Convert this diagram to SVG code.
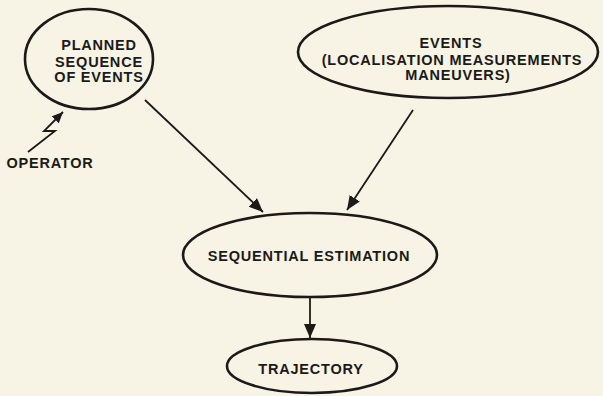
<svg xmlns="http://www.w3.org/2000/svg" width="603" height="396" viewBox="0 0 603 396">
<defs>
<style>
.n{fill:none;stroke:#1c1a18;stroke-width:2.6}
.t{font-family:"Liberation Sans",Arial,sans-serif;font-weight:bold;font-size:14.5px;letter-spacing:0.8px;fill:#1c1a18;text-anchor:middle}
.c{fill:none;stroke:#1c1a18;stroke-width:1.8}
</style>
<marker id="ah" markerUnits="userSpaceOnUse" markerWidth="16" markerHeight="14" refX="14" refY="6" orient="auto">
<path d="M0,0 L14,6 L0,12 Z" fill="#1c1a18"/>
</marker>
<marker id="ah2" markerUnits="userSpaceOnUse" markerWidth="14" markerHeight="12" refX="11" refY="5" orient="auto">
<path d="M0,0 L11,5 L0,10 Z" fill="#1c1a18"/>
</marker>
</defs>
<rect width="603" height="396" fill="#f7f3e5"/>
<g id="planned">
<ellipse class="n" cx="89" cy="59" rx="64" ry="50"/>
<text class="t" x="99" y="50">PLANNED</text>
<text class="t" x="99" y="66.5">SEQUENCE</text>
<text class="t" x="99" y="82">OF EVENTS</text>
</g>
<g id="operator">
<text class="t" x="50" y="168">OPERATOR</text>
</g>
<g id="events">
<ellipse class="n" cx="448" cy="52" rx="150" ry="46"/>
<text class="t" x="451" y="48">EVENTS</text>
<text class="t" x="452" y="64.5">(LOCALISATION MEASUREMENTS</text>
<text class="t" x="458" y="80">MANEUVERS)</text>
</g>
<g id="estimation">
<ellipse class="n" cx="310" cy="255" rx="127" ry="42"/>
<text class="t" x="309" y="261">SEQUENTIAL ESTIMATION</text>
</g>
<g id="trajectory">
<ellipse class="n" cx="312" cy="366" rx="85" ry="27"/>
<text class="t" x="311" y="374">TRAJECTORY</text>
</g>
<g id="connectors">
<path class="c" d="M145,100 L263,212" marker-end="url(#ah)"/>
<path class="c" d="M413,110 L347,210" marker-end="url(#ah)"/>
<path class="c" d="M310,297 L310,338" marker-end="url(#ah)"/>
<path class="c" d="M28,152 L55,131 L44,131 L63,112" marker-end="url(#ah2)"/>
</g>
</svg>
